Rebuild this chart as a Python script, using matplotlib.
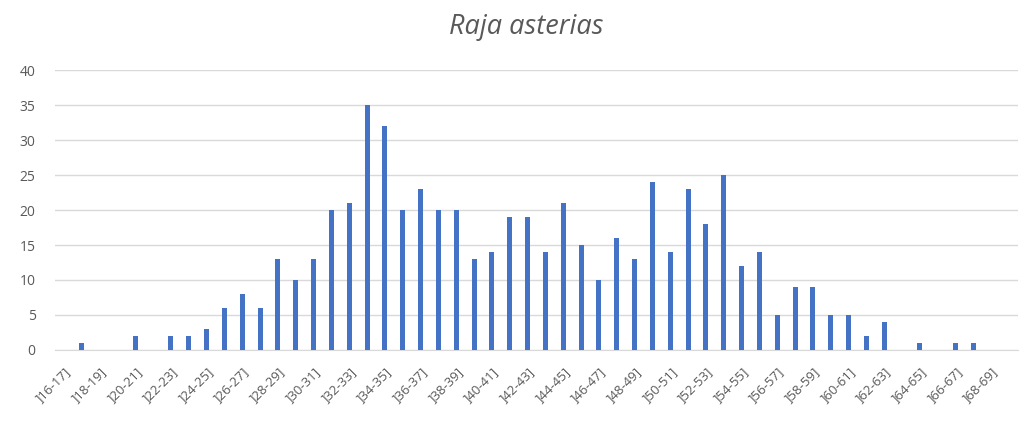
"""Length-class histogram for Raja asterias (Excel-style bar chart)."""

import matplotlib.pyplot as plt
import numpy as np

# length classes ]16-17] ... ]69-70]
class_starts = list(range(16, 70))
class_labels = [f"]{a}-{a + 1}]" for a in class_starts]
counts = [
    0, 1, 0, 0, 2, 0, 2, 2, 3, 6,
    8, 6, 13, 10, 13, 20, 21, 35, 32, 20,
    23, 20, 20, 13, 14, 19, 19, 14, 21, 15,
    10, 16, 13, 24, 14, 23, 18, 25, 12, 14,
    5, 9, 9, 5, 5, 2, 4, 0, 1, 0,
    1, 1, 0, 0,
]
y_ticks = [0, 5, 10, 15, 20, 25, 30, 35, 40]

TEXT = "#595959"
plt.rcParams["font.family"] = ["Open Sans", "DejaVu Sans"]

fig = plt.figure(figsize=(10.25, 4.33), dpi=100, facecolor="white")
ax = fig.add_axes([0.0537, 0.1917, 0.9395, 0.6466])

x = np.arange(len(counts))
ax.bar(x, counts, width=0.28, color="#4472C4", zorder=3)

ax.set_xlim(-0.5, len(counts) - 0.5)
ax.set_ylim(0, 40)
ax.set_yticks(y_ticks)
ax.set_yticklabels([str(v) for v in y_ticks], color=TEXT, fontsize=10)
ax.grid(axis="y", color="#d9d9d9", linewidth=1.0, zorder=0)
ax.tick_params(axis="y", length=0, pad=14)

ax.set_xticks(x[::2])
ax.set_xticklabels(class_labels[::2], rotation=45, ha="right",
                   rotation_mode="anchor", color=TEXT, fontsize=9.5)
ax.tick_params(axis="x", length=0, pad=11)

for side in ("top", "right", "left"):
    ax.spines[side].set_visible(False)
ax.spines["bottom"].set_color("#d9d9d9")

fig.text(0.513, 0.937, "Raja asterias", ha="center", va="center",
         fontsize=19.5, style="italic", color=TEXT)

fig.savefig("out.png", dpi=100, facecolor="white")
